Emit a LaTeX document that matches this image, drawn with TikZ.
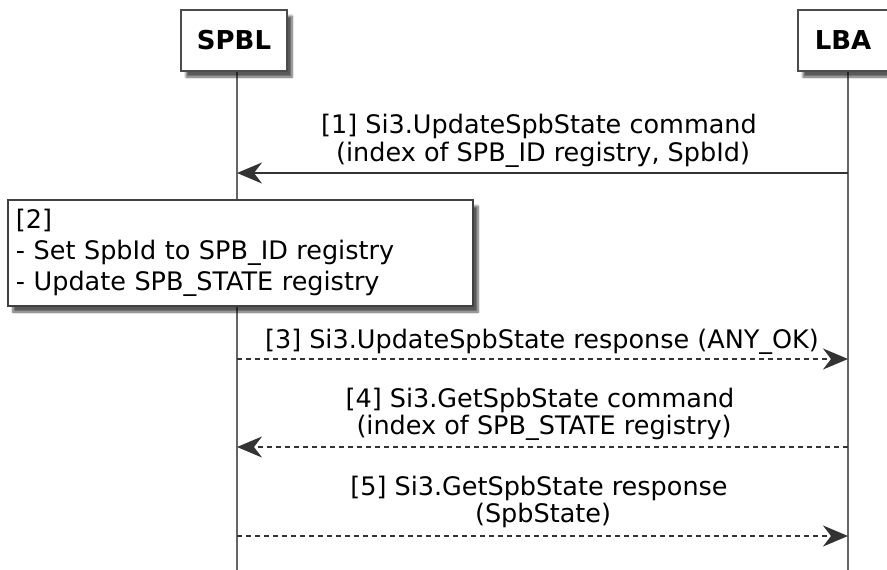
\documentclass[tikz,border=0pt]{standalone}
\usepackage{fontspec}
\setmainfont{DejaVu Sans}
\usetikzlibrary{arrows.meta,shadows.blur}
\begin{document}
\begin{tikzpicture}[x=1pt,y=-1pt,
  part/.style={draw=black!70, line width=2.5pt, fill=white, font=\bfseries\fontsize{26}{30}\selectfont,
    minimum width=106pt, minimum height=61pt, inner sep=0pt,
    blur shadow={shadow xshift=5pt, shadow yshift=-6pt, shadow blur steps=6, shadow opacity=65}},
  notebox/.style={draw=black!75, line width=2pt, fill=white, align=left, text width=449pt,
    minimum height=106pt, inner sep=8pt, font=\fontsize{25.5}{31}\selectfont,
    blur shadow={shadow xshift=5pt, shadow yshift=-6pt, shadow blur steps=6, shadow opacity=65}},
  life/.style={draw=black!60, line width=2pt},
  msg/.style={draw=black!80, line width=2pt, -{Stealth[length=25pt,width=21pt,inset=8pt]}},
  reply/.style={msg, dash pattern=on 5pt off 4pt},
  lbl/.style={align=center, font=\fontsize{25.5}{27.5}\selectfont, inner sep=0pt}
]
\useasboundingbox (0,0) rectangle (887,570);

% lifelines
\coordinate (sTop) at (237,72);
\coordinate (sBot) at (237,572);
\coordinate (lTop) at (848,72);
\coordinate (lBot) at (848,572);
\draw[life] (sTop) -- (sBot);
\draw[life] (lTop) -- (lBot);

% participants
\node[part] (spbl) at (234,40.5) {SPBL};
\node[part, minimum width=90pt] (lba) at (843,40.5) {LBA};

% message 1
\coordinate (s1) at (237,173);
\coordinate (l1) at (848,173);
\draw[msg] (l1) -- (s1);
\node[lbl] (m1) at (539,141) {[1] Si3.UpdateSpbState command\\\ (index of SPB\_ID registry, SpbId)};

% note 2
\node[notebox, anchor=north west] (n2) at (7,199) {[2]\\- Set SpbId to SPB\_ID registry\\- Update SPB\_STATE registry};

% message 3
\coordinate (s3) at (237,359);
\coordinate (l3) at (848,359);
\draw[reply] (s3) -- (l3);
\node[lbl] (m3) at (542,342) {[3] Si3.UpdateSpbState response (ANY\_OK)};

% message 4
\coordinate (s4) at (237,447);
\coordinate (l4) at (848,447);
\draw[reply] (l4) -- (s4);
\node[lbl] (m4) at (540,414.5) {[4] Si3.GetSpbState command\\\ (index of SPB\_STATE registry)};

% message 5
\coordinate (s5) at (237,536);
\coordinate (l5) at (848,536);
\draw[reply] (s5) -- (l5);
\node[lbl] (m5) at (539,502) {[5] Si3.GetSpbState response\\\ (SpbState)};
\end{tikzpicture}
\end{document}
